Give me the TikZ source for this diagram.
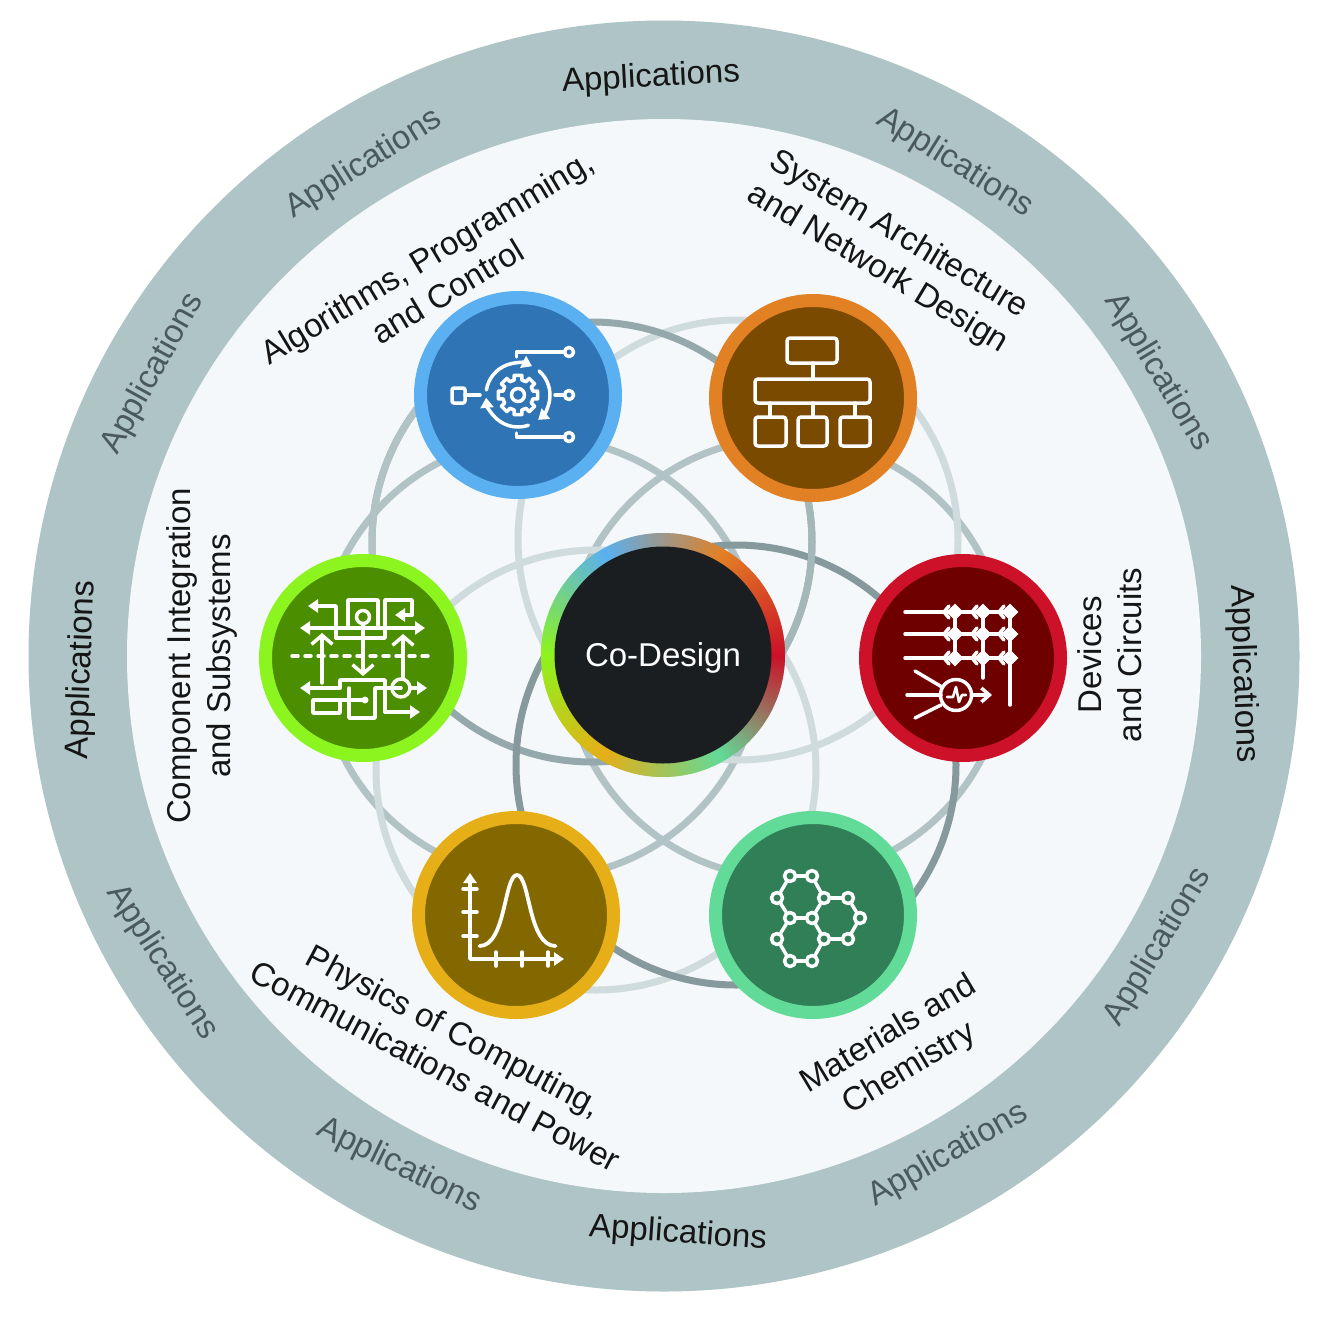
\documentclass[tikz,border=0pt]{standalone}
\usepackage{fontspec}
\setmainfont{Liberation Sans}
\usetikzlibrary{arrows.meta, shapes.geometric}

\definecolor{ringgrey}{HTML}{AEC4C6}
\definecolor{discpale}{HTML}{F4F8FA}
\definecolor{greytext}{HTML}{4A5A5C}
\definecolor{blacktext}{HTML}{151515}
\definecolor{petaldark}{HTML}{869A9E}
\definecolor{petaldeep}{HTML}{95A9AC}
\definecolor{petalsoft}{HTML}{A4B7B9}
\definecolor{petalmid}{HTML}{B2C3C5}
\definecolor{petallight}{HTML}{CFDBDC}
\definecolor{blueR}{HTML}{5AB0F0}
\definecolor{blueF}{HTML}{2F74B5}
\definecolor{orangeR}{HTML}{E28024}
\definecolor{orangeF}{HTML}{7A4A00}
\definecolor{limeR}{HTML}{8CF41E}
\definecolor{limeF}{HTML}{4B8E00}
\definecolor{redR}{HTML}{CC1128}
\definecolor{redF}{HTML}{6F0000}
\definecolor{goldR}{HTML}{E6AE17}
\definecolor{goldF}{HTML}{836800}
\definecolor{mintR}{HTML}{62DA98}
\definecolor{mintF}{HTML}{317F56}
\definecolor{coreF}{HTML}{1A1E21}

\tikzset{
    lbl/.style={font=\fontsize{33}{40}\selectfont, inner sep=0pt, align=center, text=blacktext},
    sat/.style 2 args={circle, inner sep=0pt, minimum size=195pt, line width=13pt, fill=#1, draw=#2},
    petal/.style={line width=7pt},
    icon/.style={draw=white, line width=3.5pt, line join=round, line cap=round},
    hd/.style={-{Triangle[length=10pt, width=13pt]}},
    twohd/.style={{Triangle[length=10pt, width=13pt]}-{Triangle[length=10pt, width=13pt]}},
    barb/.style={-{Straight Barb[length=9pt, width=21pt]}},
    smallbarb/.style={-{Straight Barb[length=8pt, width=14pt]}},
    atom/.style={circle, draw=white, line width=3.5pt, inner sep=0pt, minimum size=11pt},
    plug/.style={circle, draw=white, line width=3.5pt, inner sep=0pt, minimum size=9pt},
    spark/.style={diamond, fill=white, inner sep=0pt, minimum size=18pt}
}

\begin{document}
\begin{tikzpicture}[x=1pt, y=-1pt]
    \useasboundingbox (0,0) rectangle (1325,1330);

    \node[circle, fill=ringgrey, inner sep=0pt, minimum size=1271pt] (outer) at (664,656) {};
    \node[circle, fill=discpale, inner sep=0pt, minimum size=1074pt] (disc) at (664,656) {};

    \foreach \x/\y/\c in {540/658/petalmid, 786/658/petalmid, 596/770/petallight, 738/540/petallight, 592/542/petaldeep, 736/765/petaldark}
        \draw[petal, \c] (\x,\y) circle[radius=220];
    \begin{scope}[shift={(592,542)}]
        \draw[petal, petalmid] (175:220) arc[start angle=175, end angle=222, radius=220];
        \draw[petal, petalsoft] (-30:220) arc[start angle=-30, end angle=40, radius=220];
    \end{scope}

    \foreach \x/\y/\r/\c/\n in {651/78/3/blacktext/a, 364/164/32/greytext/b, 153/374/61/greytext/c, 82/670/88/blacktext/d,
        162/962/-57/greytext/e, 399/1166/-26/greytext/f, 678/1234/-4/blacktext/g, 948/1155/30/greytext/h,
        1158/947/59/greytext/i, 1243/674/-88/blacktext/j, 1158/372/-59/greytext/k, 955/163/-32/greytext/l}
        \node[lbl, text=\c, rotate=\r] (app\n) at (\x,\y) {Applications};

    \node[lbl, rotate=31] (algotxt) at (437,274) {Algorithms, Programming,\\and Control};
    \node[lbl, rotate=-31] (archtxt) at (888,252) {System Architecture\\and Network Design};
    \node[lbl, rotate=90] (devtxt) at (1110,655) {Devices\\and Circuits};
    \node[lbl, rotate=31] (mattxt) at (899,1052) {Materials and\\Chemistry};
    \node[lbl, rotate=-28] (phystxt) at (445,1048) {Physics of Computing,\\Communications and Power};
    \node[lbl, rotate=90] (comptxt) at (202,656) {Component Integration\\and Subsystems};

    \begin{scope}[shift={(663,655)}]
        \foreach \ca/\cb/\st in {limeR/blueR/-180, blueR/orangeR/-120, orangeR/redR/-60, redR/mintR/0, mintR/goldR/60, goldR/limeR/120}
            \foreach \i in {0,...,59} {
                \pgfmathsetmacro\p{\i*100/60}
                \fill[\cb!\p!\ca] (0,0) -- ({\st+\i}:122) -- ({\st+\i+1.6}:122) -- cycle;
            }
    \end{scope}
    \node[circle, fill=coreF, inner sep=0pt, minimum size=217pt, font=\fontsize{33}{40}\selectfont, text=white, text height=22pt, text depth=0pt] (core) at (663,655) {Co-Design};

    \node[sat={blueF}{blueR}] (algo) at (518,395) {};
    \node[sat={orangeF}{orangeR}] (arch) at (813,398) {};
    \node[sat={limeF}{limeR}] (comp) at (363,658) {};
    \node[sat={redF}{redR}] (dev) at (963,658) {};
    \node[sat={goldF}{goldR}] (phys) at (516,915) {};
    \node[sat={mintF}{mintR}] (mat) at (813,915) {};

    \begin{scope}[shift={(algo.center)}, icon]
        \draw[rounded corners=2pt] (-66,-7) rectangle (-53,8);
        \draw (-53,0) -- (-38,0);
        \draw (-1.5,-38) -- (-1.5,-43) -- (46,-43);
        \draw (37,0) -- (46,0);
        \draw (-1.5,38) -- (-1.5,42) -- (46,42);
        \node[plug] (algoa) at (51,-43) {};
        \node[plug] (algob) at (51,0) {};
        \node[plug] (algoc) at (51,42) {};
        \draw[hd] (189:32) arc[start angle=189, end angle=296, radius=32];
        \draw[hd] (-49:32) arc[start angle=-49, end angle=51, radius=32];
        \draw[hd] (71:32) arc[start angle=71, end angle=175, radius=32];
        \draw (-14:15.5) \foreach \a in {0,45,...,315} { -- ({\a-11}:20) -- ({\a+11}:20) -- ({\a+14}:15.5) -- ({\a+31}:15.5) } -- cycle;
        \draw (0,0) circle[radius=6.5];
    \end{scope}

    \begin{scope}[shift={(arch.center)}, icon]
        \draw[rounded corners=3pt] (-26,-60) rectangle (24,-35);
        \draw (0,-35) -- (0,-19);
        \draw[rounded corners=3pt] (-58,-19) rectangle (57,5);
        \foreach \x in {-43,0,42}
            \draw (\x,5) -- (\x,19);
        \foreach \x/\w in {-58/-27, -15/14, 27/57}
            \draw[rounded corners=3pt] (\x,19) rectangle (\w,48);
    \end{scope}

    \begin{scope}[shift={(comp.center)}, icon]
        \draw[hd] (-27,-20) -- (-27,-52) -- (-55,-52);
        \draw (-27,-20) -- (22,-20) -- (22,-58) -- (49,-58) -- (49,-43);
        \draw[hd] (49,-43) -- (32,-43);
        \draw[twohd] (-63,-30) -- (62,-30);
        \draw (-15,-30) -- (-15,-58) -- (15,-58) -- (15,-30);
        \draw (0,-41) circle[radius=6.5];
        \draw[barb] (0,-34) -- (0,18);
        \draw[barb] (-41,25) -- (-41,-25);
        \draw[barb] (40,19) -- (40,-24);
        \draw[dash pattern=on 6pt off 7pt] (-71,-2) -- (71,-2);
        \draw[hd] (-23,30) -- (-63,30);
        \draw (-23,30) -- (-23,22) -- (22,22) -- (22,50);
        \draw[hd] (22,54) -- (57,54);
        \draw (22,50) -- (22,54);
        \draw (38,30) circle[radius=9];
        \draw (22,30) -- (38,30);
        \draw[hd] (47,30) -- (64,30);
        \draw (-50,42) rectangle (-23,55);
        \draw (-23,42) -- (0,42);
        \fill[white] (2,42) circle[radius=3.5];
        \draw (-14,30) -- (-14,60) -- (12,60) -- (12,30) -- (22,30);
    \end{scope}

    \begin{scope}[shift={(dev.center)}, icon]
        \foreach \y in {-46,-24,0} {
            \draw (-58,\y) -- (47,\y);
            \foreach \x in {-8,20,47} {
                \node[spark] (dev\x\y) at (\x,\y) {};
                \draw (\x-6,\y-6) -- (\x-11,\y) -- (\x-6,\y+6);
            }
        }
        \draw (-8,-46) -- (-8,0);
        \draw (20,-46) -- (20,20);
        \draw (47,-46) -- (47,47);
        \draw (-7,37) circle[radius=15.5];
        \draw (-48,13) -- (-21,29);
        \draw (-56,37) -- (-22,37);
        \draw (-48,60) -- (-22,47);
        \draw[smallbarb] (9,37) -- (29,37);
        \draw[line width=2.6pt] (-16,39) -- (-10,39) -- (-7,29) -- (-4,44) -- (-1,37) -- (3,37);
    \end{scope}

    \begin{scope}[shift={(phys.center)}, icon]
        \draw[twohd] (-46,-42) -- (-46,44) -- (48,44);
        \foreach \y in {-26,-3,21}
            \draw (-53,\y) -- (-39,\y);
        \foreach \x in {-20,6,32}
            \draw (\x,37) -- (\x,51);
        \draw[line width=3.8pt] (-36.5,31) .. controls (-10,31) and (-12,-40) .. (1,-40) .. controls (14,-40) and (12,31) .. (39.5,31);
    \end{scope}

    \begin{scope}[shift={(mat.center)}, icon]
        \foreach \n/\x/\y in {a/-23/-39, b/-1/-39, c/-36/-17, d/11/-17, e/-23/3, f/-1/3, g/35/-17, h/47/3, i/35/24, j/11/24, k/-36/24, l/-23/46, m/-1/46}
            \node[atom] (mat\n) at (\x,\y) {};
        \foreach \p/\q in {a/b, a/c, b/d, c/e, e/f, d/f, d/g, g/h, h/i, i/j, j/f, e/k, k/l, l/m, m/j}
            \draw (mat\p) -- (mat\q);
    \end{scope}
\end{tikzpicture}
\end{document}
